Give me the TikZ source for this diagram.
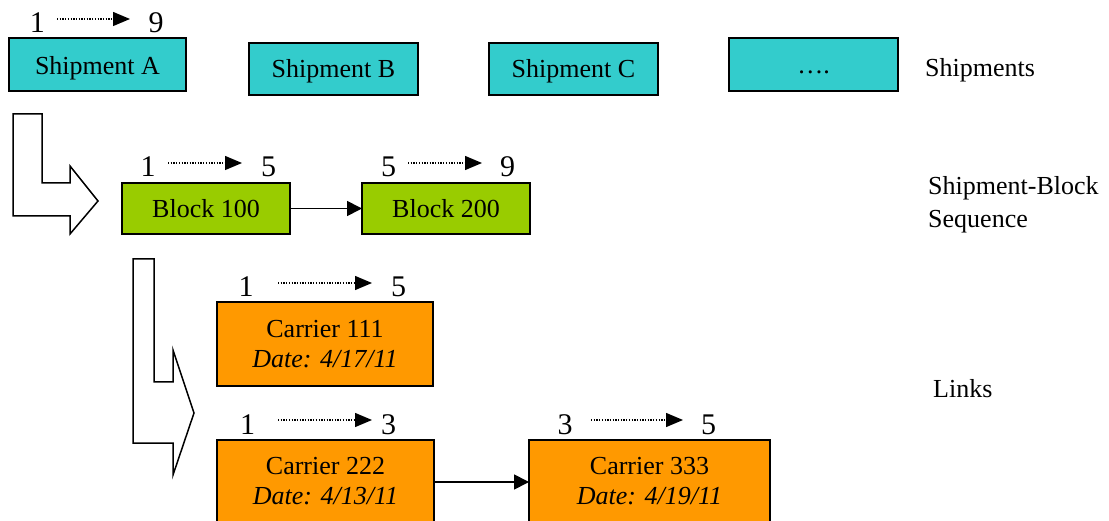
\documentclass[tikz,border=0pt]{standalone}
\usepackage{fontspec}
\setmainfont{Liberation Serif}
\usetikzlibrary{arrows.meta}
\definecolor{shipcol}{HTML}{33CCCC}
\definecolor{blockcol}{HTML}{99CC00}
\definecolor{carriercol}{HTML}{FF9900}
\newcommand\dgmtext{\fontsize{26}{30}\selectfont}
\newcommand\dgmdigit{\fontsize{30}{30}\selectfont}
\begin{document}
\begin{tikzpicture}[x=1pt,y=-1pt,
  box/.style={draw=black, line width=1.8pt, inner sep=0pt, outer sep=0pt,
    anchor=north west, font=\dgmtext, text height=18pt, text depth=0pt},
  shipbox/.style={box, fill=shipcol, minimum width=169pt, minimum height=52pt},
  blockbox/.style={box, fill=blockcol, minimum width=168pt, minimum height=51pt},
  carrierbox/.style={box, fill=carriercol, minimum height=84pt},
  txt/.style={anchor=base, inner sep=0pt, font=\dgmtext},
  sidelabel/.style={anchor=base west, inner sep=0pt, font=\dgmtext},
  num/.style={anchor=base, inner sep=0pt, outer sep=0pt, font=\dgmdigit,
    text height=28pt, text depth=0pt},
  span/.style={line width=1.3pt, dash pattern=on 1.3pt off 1.4pt,
    -{Triangle[length=17pt,width=14pt]}},
  link/.style={line width=1.8pt, -{Triangle[length=15pt,width=15pt]}},
  bent/.style={draw=black, fill=white, line width=1.5pt, line join=miter},
]
\useasboundingbox (0,0) rectangle (1109,521);
\clip (0,0) rectangle (1109,521);

% shipments row
\node[shipbox, minimum width=177pt, minimum height=53pt, text height=20pt] (shipA) at (9,38) {Shipment A};
\node[shipbox] (shipB) at (249,43) {Shipment B};
\node[shipbox] (shipC) at (489,43) {Shipment C};
\node[shipbox, minimum height=53pt] (shipD) at (729,38) {….};
\node[sidelabel] (lshipments) at (925,77) {Shipments};

\node[num] (sA1) at (37.5,33) {1};
\node[num] (sA9) at (156,33) {9};
\draw[span, shorten <=12pt, shorten >=18.5pt] (sA1.east) -- (sA9.west);

% first bent arrow
\draw[bent] (13,114) -- (42,114) -- (42,183) -- (70,183) -- (70,166)
  -- (98,201) -- (70,234) -- (70,216) -- (13,216) -- cycle;

% shipment-block sequence
\node[blockbox] (b100) at (122,183) {Block 100};
\node[blockbox] (b200) at (362,183) {Block 200};
\draw[link] (b100.east) -- (b200.west);
\node[sidelabel, align=left, font=\fontsize{26}{33}\selectfont] (lseq) at (928,228)
  {Shipment-Block\\Sequence};

\node[num] (b1a) at (148,177) {1};
\node[num] (b1b) at (268.5,177) {5};
\draw[span, shorten <=12.5pt, shorten >=19pt] (b1a.east) -- (b1b.west);
\node[num] (b2a) at (388.5,177) {5};
\node[num] (b2b) at (507.5,177) {9};
\draw[span, shorten <=12pt, shorten >=18pt] (b2a.east) -- (b2b.west);

% second bent arrow
\draw[bent] (133,259) -- (154,259) -- (154,382) -- (173,382) -- (173,350)
  -- (194,413) -- (173,475) -- (173,443) -- (133,443) -- cycle;

% links
\node[carrierbox, minimum width=216pt] (c111) at (217,302) {};
\node[txt] (c111n) at (325,338) {Carrier 111};
\node[txt] (c111d) at (325,367) {\itshape Date: 4/17/11};
\node[num] (c1a) at (246,297) {1};
\node[num] (c1b) at (398.5,297) {5};
\draw[span, shorten <=24.5pt, shorten >=19pt] (c1a.east) -- (c1b.west);

\node[carrierbox, minimum width=217pt] (c222) at (217,440) {};
\node[txt] (c222n) at (325.5,474) {Carrier 222};
\node[txt] (c222d) at (325.5,504) {\itshape Date: 4/13/11};
\node[num] (c2a) at (247.5,434) {1};
\node[num] (c2b) at (388.5,434) {3};
\draw[span, shorten <=23pt, shorten >=9pt] (c2a.east) -- (c2b.west);

\node[carrierbox, minimum width=241pt] (c333) at (529,440) {};
\node[txt] (c333n) at (649.5,474) {Carrier 333};
\node[txt] (c333d) at (649.5,504) {\itshape Date: 4/19/11};
\node[num] (c3a) at (565,434) {3};
\node[num] (c3b) at (708.5,434) {5};
\draw[span, shorten <=18.5pt, shorten >=18pt] (c3a.east) -- (c3b.west);

\draw[link] (c222.east) -- (c333.west);
\node[sidelabel] (llinks) at (933,397) {Links};
\end{tikzpicture}
\end{document}
